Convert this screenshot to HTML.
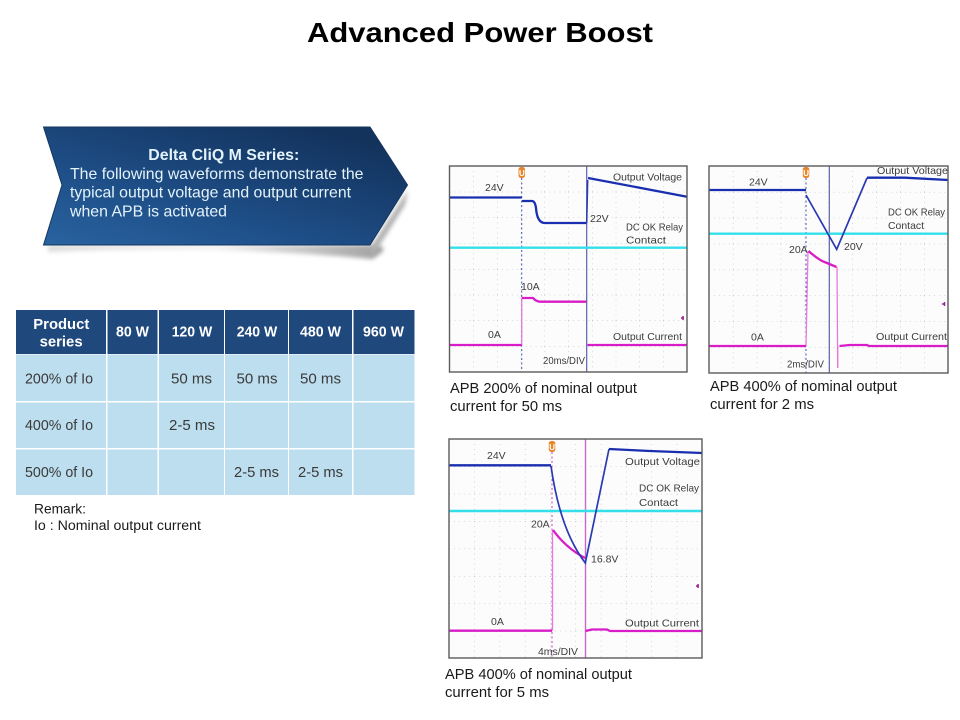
<!DOCTYPE html>
<html>
<head>
<meta charset="utf-8">
<style>
html,body{margin:0;padding:0;background:#fff;width:960px;height:720px;overflow:hidden}
svg{display:block;font-family:"Liberation Sans",Arial,sans-serif;filter:blur(.25px)}
.s text{font-size:10.5px;fill:#3c3c3c;-webkit-text-stroke:.25px #3c3c3c}
.c{font-size:14.9px;fill:#1a1a1a}
.r{font-size:14.2px;fill:#1a1a1a}
.w{font-size:15.6px;fill:#e4f3fb}
.h{font-size:14.8px;font-weight:bold;fill:#fff}
.b{font-size:14.9px;fill:#3a3a3a}
.f{fill:none;stroke:#5a5a5a;stroke-width:1.4}
.v{fill:none;stroke:#1a2fb0;stroke-width:2.3}
.v2{fill:none;stroke:#2a3ab0;stroke-width:1.5}
.y{fill:none;stroke:#33e0ea;stroke-width:2.4}
.m{fill:none;stroke:#d81cc8;stroke-width:2.3}
.m2{fill:none;stroke:#e878e0;stroke-width:1.3}
.d{stroke-width:1;stroke-dasharray:2 2.5;fill:none}
.s text.u{font-size:8px;font-weight:bold;fill:#fff;-webkit-text-stroke:0}
</style>
</head>
<body>
<svg width="960" height="720" viewBox="0 0 960 720" xmlns="http://www.w3.org/2000/svg">
<defs>
<linearGradient id="g" x1="0.05" y1="1" x2="0.85" y2="0.1">
<stop offset="0" stop-color="#28629f"/>
<stop offset="0.45" stop-color="#1d4c84"/>
<stop offset="1" stop-color="#13335d"/>
</linearGradient>
<linearGradient id="sh" x1="0" y1="0" x2="1" y2="0">
<stop offset="0" stop-color="#dcdcdc"/>
<stop offset="0.5" stop-color="#f2f2f2"/>
<stop offset="1" stop-color="#a0a0a0"/>
</linearGradient>
<filter id="bl" x="-10%" y="-30%" width="120%" height="160%"><feGaussianBlur stdDeviation="2"/></filter>
<pattern id="p1" x="449.5" y="166" width="23.75" height="25.75" patternUnits="userSpaceOnUse"><path d="M0 0V25.75M0 0H23.75" stroke="#b4b4b4" stroke-width="1" stroke-dasharray="1 4" fill="none"/></pattern>
<pattern id="p2" x="709" y="166" width="23.9" height="25.9" patternUnits="userSpaceOnUse"><path d="M0 0V25.9M0 0H23.9" stroke="#b4b4b4" stroke-width="1" stroke-dasharray="1 4" fill="none"/></pattern>
<pattern id="p3" x="449" y="439" width="25.3" height="27.4" patternUnits="userSpaceOnUse"><path d="M0 0V27.4M0 0H25.3" stroke="#b4b4b4" stroke-width="1" stroke-dasharray="1 4" fill="none"/></pattern>
</defs>

<rect width="960" height="720" fill="#fff"/>

<text x="307" y="42" font-size="28" font-weight="bold" fill="#000" textLength="346" lengthAdjust="spacingAndGlyphs">Advanced Power Boost</text>

<!-- callout -->
<path d="M48 245 L372 245 Q395 246 372 259 Q220 245 48 252 Z" fill="url(#sh)" filter="url(#bl)"/>
<path d="M372 245 L408 190 L405 205 L371 259 Z" fill="#b0b0b0" filter="url(#bl)"/>
<polygon points="43.5,127 370,127 407.5,185 370,245 43.5,245 62,185" fill="url(#g)" stroke="#16365f" stroke-width="1"/>
<text class="w" x="148.3" y="160" textLength="151" lengthAdjust="spacingAndGlyphs" style="font-weight:bold;font-size:15.5px">Delta CliQ M Series:</text>
<text class="w" x="70" y="179" textLength="293.5" lengthAdjust="spacingAndGlyphs">The following waveforms demonstrate the</text>
<text class="w" x="70" y="197.5" textLength="281" lengthAdjust="spacingAndGlyphs">typical output voltage and output current</text>
<text class="w" x="70" y="216.5" textLength="157" lengthAdjust="spacingAndGlyphs">when APB is activated</text>

<!-- table -->
<g fill="#1f497d">
<rect x="16" y="310" width="90" height="44"/><rect x="107.5" y="310" width="50" height="44"/><rect x="159" y="310" width="65" height="44"/><rect x="225" y="310" width="63" height="44"/><rect x="289" y="310" width="63" height="44"/><rect x="353.5" y="310" width="61" height="44"/>
</g>
<g fill="#bcdeee">
<rect x="16" y="354.5" width="90" height="46.5"/><rect x="107.5" y="354.5" width="50" height="46.5"/><rect x="159" y="354.5" width="65" height="46.5"/><rect x="225" y="354.5" width="63" height="46.5"/><rect x="289" y="354.5" width="63" height="46.5"/><rect x="353.5" y="354.5" width="61" height="46.5"/>
<rect x="16" y="402.5" width="90" height="45.5"/><rect x="107.5" y="402.5" width="50" height="45.5"/><rect x="159" y="402.5" width="65" height="45.5"/><rect x="225" y="402.5" width="63" height="45.5"/><rect x="289" y="402.5" width="63" height="45.5"/><rect x="353.5" y="402.5" width="61" height="45.5"/>
<rect x="16" y="449.5" width="90" height="45.5"/><rect x="107.5" y="449.5" width="50" height="45.5"/><rect x="159" y="449.5" width="65" height="45.5"/><rect x="225" y="449.5" width="63" height="45.5"/><rect x="289" y="449.5" width="63" height="45.5"/><rect x="353.5" y="449.5" width="61" height="45.5"/>
</g>
<text class="h" x="33.3" y="329" textLength="56" lengthAdjust="spacingAndGlyphs">Product</text>
<text class="h" x="39.6" y="346.7" textLength="43" lengthAdjust="spacingAndGlyphs">series</text>
<text class="h" x="116" y="336.7" textLength="33" lengthAdjust="spacingAndGlyphs">80 W</text>
<text class="h" x="171.7" y="336.7" textLength="40.5" lengthAdjust="spacingAndGlyphs">120 W</text>
<text class="h" x="236.7" y="336.7" textLength="40.5" lengthAdjust="spacingAndGlyphs">240 W</text>
<text class="h" x="300" y="336.7" textLength="41" lengthAdjust="spacingAndGlyphs">480 W</text>
<text class="h" x="363" y="336.7" textLength="41" lengthAdjust="spacingAndGlyphs">960 W</text>
<text class="b" x="25" y="383.3" textLength="68" lengthAdjust="spacingAndGlyphs">200% of Io</text>
<text class="b" x="171" y="383.3" textLength="41" lengthAdjust="spacingAndGlyphs">50 ms</text>
<text class="b" x="236.5" y="383.3" textLength="41" lengthAdjust="spacingAndGlyphs">50 ms</text>
<text class="b" x="300" y="383.3" textLength="41" lengthAdjust="spacingAndGlyphs">50 ms</text>
<text class="b" x="25" y="430" textLength="68" lengthAdjust="spacingAndGlyphs">400% of Io</text>
<text class="b" x="169" y="430" textLength="46" lengthAdjust="spacingAndGlyphs">2-5 ms</text>
<text class="b" x="25" y="477" textLength="68" lengthAdjust="spacingAndGlyphs">500% of Io</text>
<text class="b" x="234" y="477" textLength="45" lengthAdjust="spacingAndGlyphs">2-5 ms</text>
<text class="b" x="298" y="477" textLength="45" lengthAdjust="spacingAndGlyphs">2-5 ms</text>
<text class="r" x="34" y="513.3" textLength="52" lengthAdjust="spacingAndGlyphs">Remark:</text>
<text class="r" x="34" y="530" textLength="167" lengthAdjust="spacingAndGlyphs">Io : Nominal output current</text>

<!-- scope 1 -->
<g class="s">
<rect x="449.5" y="166" width="237.5" height="206" fill="#fcfcfc"/>
<rect x="449.5" y="166" width="237.5" height="206" fill="url(#p1)"/>
<path class="d" d="M521.7 178V372" stroke="#4050b0"/>
<path d="M586.7 166V372" stroke="#5a62a8" stroke-width="1.2" fill="none"/>
<path class="y" d="M449.5 247.7H687"/>
<path class="m2" d="M521.7 345V298"/>
<path class="m" d="M449.5 345H521.7M521.7 298H533Q536 301.5 540 301.7H586.5M587.5 345H687"/>
<path class="v" d="M449.5 197.5H521.7M522 201H532Q535 201 536 208Q537 222 544 223H586.5"/>
<path class="v2" d="M586.7 223L587.7 180"/>
<path class="v" d="M588 178L687 196.7"/>
<rect x="449.5" y="166" width="237.5" height="206" class="f"/>
<rect x="518.5" y="167" width="6.5" height="11" rx="2.5" fill="#e8862a"/>
<text class="u" x="519" y="176">U</text>
<path d="M681 318h3M683 316v4" stroke="#a0209a" stroke-width="1.5"/>
<text x="485" y="191">24V</text>
<text x="613" y="180.7" textLength="69" lengthAdjust="spacingAndGlyphs">Output Voltage</text>
<text x="590" y="222">22V</text>
<text x="626" y="230.7" textLength="57" lengthAdjust="spacingAndGlyphs">DC OK Relay</text>
<text x="626" y="243.7" textLength="40" lengthAdjust="spacingAndGlyphs">Contact</text>
<text x="521" y="290">10A</text>
<text x="488" y="338">0A</text>
<text x="613" y="340" textLength="69" lengthAdjust="spacingAndGlyphs">Output Current</text>
<text x="543" y="364" textLength="42" lengthAdjust="spacingAndGlyphs">20ms/DIV</text>
</g>
<text class="c" x="450" y="393" textLength="187" lengthAdjust="spacingAndGlyphs">APB 200% of nominal output</text>
<text class="c" x="450" y="411" textLength="112" lengthAdjust="spacingAndGlyphs">current for 50 ms</text>

<!-- scope 2 -->
<g class="s">
<rect x="709" y="166" width="239" height="207" fill="#fcfcfc"/>
<rect x="709" y="166" width="239" height="207" fill="url(#p2)"/>
<path class="d" d="M806 178V373" stroke="#4050b0"/>
<path d="M829.3 166V373" stroke="#5a62a8" stroke-width="1.2" fill="none"/>
<path class="y" d="M709 233.7H948"/>
<path class="m2" d="M806 346Q807 300 808 251M837 267L837.7 368"/>
<path class="m" d="M709 346H806M808.5 251Q815 257 822 261L836.5 267M839.5 346L850 345H867L869 346H948"/>
<path class="m2" d="M837.7 345V368"/>
<path class="v" d="M709 190H806"/>
<path class="v2" style="stroke-width:1.7" d="M806 195L836.7 249.3L867 178"/>
<path class="v" d="M867 177.7H905L948 180"/>
<rect x="709" y="166" width="239" height="207" class="f"/>
<rect x="802.8" y="167" width="6.5" height="11" rx="2.5" fill="#e8862a"/>
<text class="u" x="803.3" y="176">U</text>
<path d="M942 304h3M944.5 302v4" stroke="#a0209a" stroke-width="1.5"/>
<text x="749" y="185.7">24V</text>
<text x="877" y="174" textLength="71" lengthAdjust="spacingAndGlyphs">Output Voltage</text>
<text x="888" y="215.7" textLength="57" lengthAdjust="spacingAndGlyphs">DC OK Relay</text>
<text x="888" y="229" textLength="36" lengthAdjust="spacingAndGlyphs">Contact</text>
<text x="844" y="250">20V</text>
<text x="789" y="253">20A</text>
<text x="751" y="340.7">0A</text>
<text x="876" y="340" textLength="71" lengthAdjust="spacingAndGlyphs">Output Current</text>
<text x="787" y="367.7" textLength="37" lengthAdjust="spacingAndGlyphs">2ms/DIV</text>
</g>
<text class="c" x="710" y="391" textLength="187" lengthAdjust="spacingAndGlyphs">APB 400% of nominal output</text>
<text class="c" x="710" y="409" textLength="104" lengthAdjust="spacingAndGlyphs">current for 2 ms</text>

<!-- scope 3 -->
<g class="s">
<rect x="449" y="439" width="253" height="219" fill="#fcfcfc"/>
<rect x="449" y="439" width="253" height="219" fill="url(#p3)"/>
<path class="d" d="M552 452V658" stroke="#c040b0"/>
<path d="M585.5 439V658" stroke="#c868c8" stroke-width="1.4" fill="none"/>
<path class="y" d="M449 511H702"/>
<path class="m2" d="M552.5 630.7V530"/>
<path class="m" d="M449 630.7H552M553 530Q566 548 585 558M585.5 631L592 629.5H607L610 631H702"/>
<path class="v" d="M449 465.3H551"/>
<path class="v2" style="stroke-width:1.7" d="M551 466Q560 530 585.3 563L609 449"/>
<path class="v" d="M609 449L650 451L702 453"/>
<rect x="449" y="439" width="253" height="219" class="f"/>
<rect x="548.8" y="441" width="6.5" height="11" rx="2.5" fill="#e8862a"/>
<text class="u" x="549.3" y="450">U</text>
<path d="M696 586h3M698 584v4" stroke="#a0209a" stroke-width="1.5"/>
<text x="487" y="459">24V</text>
<text x="625" y="465" textLength="75" lengthAdjust="spacingAndGlyphs">Output Voltage</text>
<text x="639" y="491.7" textLength="60" lengthAdjust="spacingAndGlyphs">DC OK Relay</text>
<text x="639" y="506" textLength="39" lengthAdjust="spacingAndGlyphs">Contact</text>
<text x="531" y="527.3">20A</text>
<text x="591" y="562.7">16.8V</text>
<text x="491" y="625">0A</text>
<text x="625" y="626.7" textLength="74" lengthAdjust="spacingAndGlyphs">Output Current</text>
<text x="538" y="655" textLength="40" lengthAdjust="spacingAndGlyphs">4ms/DIV</text>
</g>
<text class="c" x="445" y="679" textLength="187" lengthAdjust="spacingAndGlyphs">APB 400% of nominal output</text>
<text class="c" x="445" y="697" textLength="104" lengthAdjust="spacingAndGlyphs">current for 5 ms</text>
</svg>
</body>
</html>
